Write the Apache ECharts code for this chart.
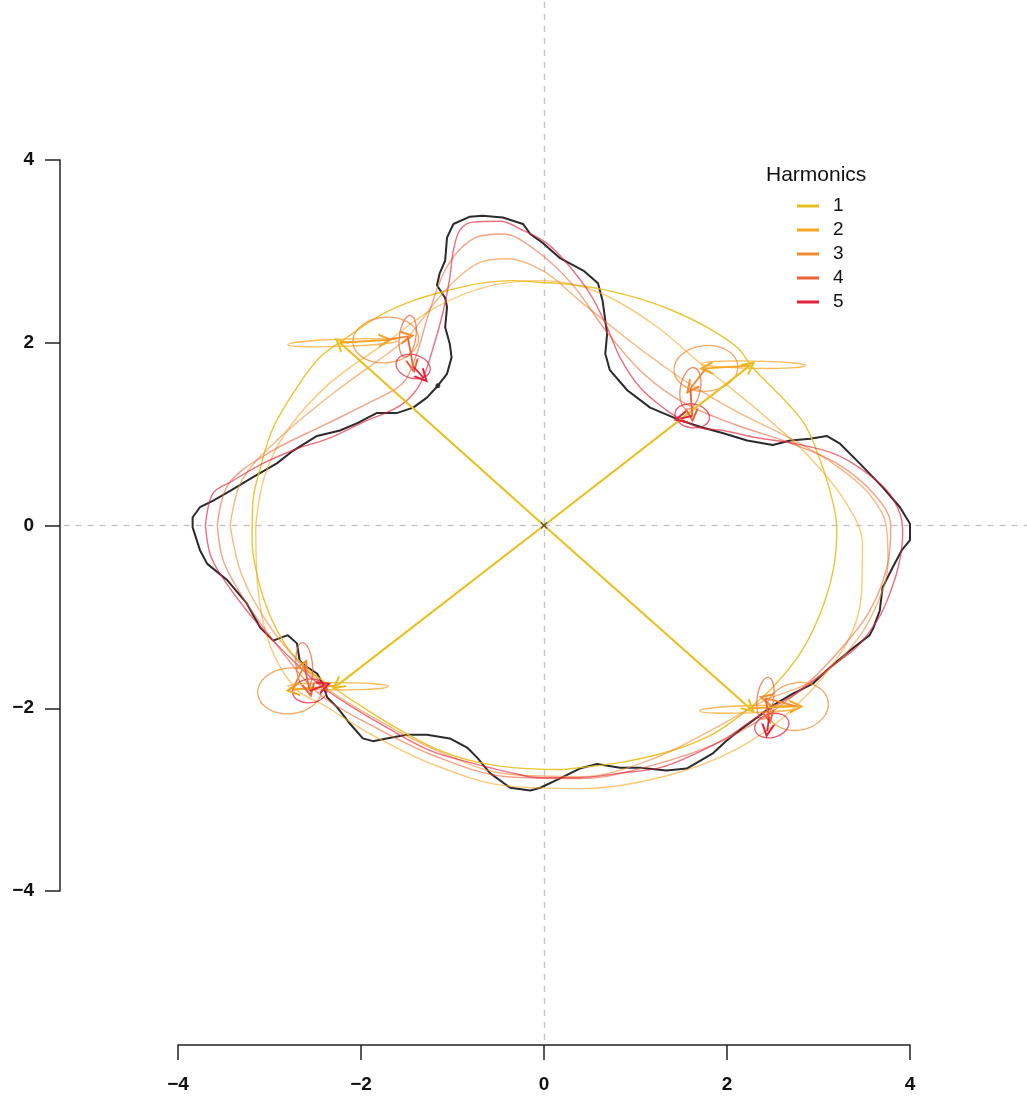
<!DOCTYPE html>
<html><head><meta charset="utf-8">
<script src="https://cdn.jsdelivr.net/npm/echarts@6/dist/echarts.min.js"></script>
<style>html,body{margin:0;padding:0;background:#fff}#c{width:1027px;height:1098px}</style>
</head><body><div id="c"></div>
<script>
// ---------- DATA ----------
const tickValues = [-4, -2, 0, 2, 4];
const legendNames = ['1', '2', '3', '4', '5'];
const legendTitle = 'Harmonics';

const refV = [[0, -5.63], [0, 5.74]];
const refH = [[-5.25, 0], [5.35, 0]];

const outline = [[-1.16,1.53],[-1.06,1.66],[-1.01,1.84],[-1.03,1.99],[-1.08,2.17],[-1.06,2.39],[-1.08,2.49],[-1.17,2.63],[-1.14,2.76],[-1.08,2.90],[-1.06,3.15],[-0.99,3.30],[-0.81,3.38],[-0.67,3.39],[-0.45,3.37],[-0.23,3.30],[-0.15,3.19],[-0.01,3.09],[0.17,2.93],[0.43,2.79],[0.59,2.65],[0.64,2.46],[0.69,2.10],[0.67,1.88],[0.72,1.70],[0.91,1.48],[1.16,1.29],[1.49,1.15],[1.74,1.07],[1.96,1.01],[2.22,0.93],[2.50,0.88],[2.69,0.93],[2.91,0.95],[3.09,0.98],[3.23,0.90],[3.45,0.68],[3.70,0.42],[3.89,0.20],[4.00,0.02],[4.00,-0.16],[3.91,-0.27],[3.81,-0.46],[3.70,-0.68],[3.67,-0.93],[3.60,-1.12],[3.56,-1.20],[3.34,-1.37],[3.13,-1.55],[2.94,-1.73],[2.72,-1.84],[2.50,-1.97],[2.33,-2.10],[2.14,-2.24],[2.00,-2.35],[1.85,-2.49],[1.56,-2.66],[1.34,-2.68],[1.05,-2.65],[0.83,-2.65],[0.58,-2.61],[0.39,-2.66],[0.17,-2.77],[-0.04,-2.87],[-0.15,-2.90],[-0.37,-2.87],[-0.59,-2.71],[-0.73,-2.54],[-0.84,-2.43],[-1.03,-2.33],[-1.28,-2.29],[-1.50,-2.29],[-1.72,-2.33],[-1.87,-2.36],[-1.98,-2.33],[-2.12,-2.17],[-2.26,-1.99],[-2.37,-1.88],[-2.42,-1.73],[-2.48,-1.62],[-2.59,-1.55],[-2.67,-1.48],[-2.70,-1.29],[-2.80,-1.20],[-2.96,-1.26],[-3.10,-1.12],[-3.25,-0.85],[-3.46,-0.60],[-3.68,-0.42],[-3.76,-0.27],[-3.84,-0.02],[-3.84,0.09],[-3.76,0.20],[-3.62,0.27],[-3.43,0.38],[-3.18,0.53],[-2.92,0.68],[-2.74,0.82],[-2.48,0.98],[-2.23,1.04],[-2.04,1.12],[-1.83,1.23],[-1.61,1.23],[-1.43,1.29],[-1.28,1.40],[-1.16,1.53]];
const startPoint = [[-1.16, 1.53]];
const centerPoint = [[0, 0]];

const harm1 = [[-3.19,-0.13],[-3.18,-0.31],[-3.10,-0.68],[-2.97,-1.04],[-2.78,-1.37],[-2.52,-1.62],[-2.31,-1.77],[-1.93,-2.02],[-1.57,-2.24],[-1.21,-2.43],[-0.81,-2.57],[-0.34,-2.65],[0.17,-2.67],[0.39,-2.65],[0.86,-2.59],[1.41,-2.46],[1.85,-2.28],[2.22,-2.02],[2.50,-1.77],[2.80,-1.40],[3.02,-0.96],[3.16,-0.49],[3.20,-0.05],[3.16,0.24],[3.02,0.71],[2.82,1.15],[2.28,1.73],[2.11,1.95],[1.78,2.17],[1.41,2.35],[1.05,2.48],[0.61,2.59],[0.17,2.65],[-0.04,2.66],[-0.34,2.68],[-0.70,2.65],[-1.06,2.57],[-1.43,2.46],[-1.79,2.30],[-2.15,2.06],[-2.45,1.84],[-2.70,1.51],[-2.96,1.07],[-3.10,0.63],[-3.18,0.27],[-3.19,-0.13]];
const harm2 = [[-3.15,0.0],[-3.05,0.55],[-2.8,1.05],[-2.35,1.55],[-1.70,2.02],[-1.2,2.38],[-0.6,2.62],[0.0,2.68],[0.6,2.55],[1.2,2.2],[1.76,1.73],[2.35,1.25],[2.9,0.75],[3.3,0.25],[3.48,-0.2],[3.47,-0.74],[3.3,-1.3],[2.74,-1.99],[2.1,-2.45],[1.3,-2.75],[0.4,-2.88],[-0.4,-2.85],[-1.2,-2.62],[-1.9,-2.28],[-2.40,-1.97],[-2.71,-1.79],[-3.0,-1.3],[-3.13,-0.65],[-3.15,0.0]];
const harm3 = [[-3.43,0.0],[-3.3,0.5],[-2.9,0.95],[-2.3,1.45],[-1.85,1.78],[-1.49,2.06],[-1.1,2.55],[-0.7,2.88],[-0.4,2.92],[0.0,2.78],[0.4,2.45],[0.9,2.05],[1.3,1.75],[1.62,1.53],[2.1,1.25],[2.7,0.95],[3.2,0.65],[3.55,0.35],[3.74,0.0],[3.76,-0.4],[3.6,-0.95],[3.3,-1.4],[2.9,-1.72],[2.42,-1.91],[1.9,-2.2],[1.2,-2.55],[0.4,-2.75],[-0.4,-2.72],[-1.2,-2.45],[-1.9,-2.08],[-2.35,-1.8],[-2.62,-1.56],[-3.0,-1.1],[-3.3,-0.55],[-3.43,0.0]];
const harm4 = [[-3.57,0.0],[-3.45,0.45],[-3.0,0.8],[-2.4,1.1],[-1.9,1.35],[-1.55,1.55],[-1.40,1.85],[-1.25,2.35],[-1.05,2.85],[-0.75,3.15],[-0.45,3.19],[-0.1,3.02],[0.3,2.65],[0.7,2.1],[1.1,1.65],[1.55,1.33],[2.1,1.1],[2.7,0.9],[3.2,0.68],[3.6,0.35],[3.79,0.0],[3.75,-0.45],[3.55,-0.95],[3.2,-1.4],[2.8,-1.8],[2.4,-2.1],[1.9,-2.38],[1.2,-2.62],[0.4,-2.77],[-0.4,-2.75],[-1.2,-2.52],[-1.9,-2.18],[-2.45,-1.85],[-2.85,-1.4],[-3.25,-0.85],[-3.5,-0.4],[-3.57,0.0]];
const harm5 = [[-3.70,0.00],[-3.62,0.35],[-3.40,0.49],[-3.07,0.68],[-2.70,0.84],[-2.34,0.96],[-1.98,1.13],[-1.61,1.29],[-1.43,1.44],[-1.32,1.62],[-1.21,1.95],[-1.10,2.35],[-1.03,2.71],[-0.99,3.01],[-0.92,3.23],[-0.78,3.32],[-0.48,3.33],[-0.23,3.23],[0.03,3.09],[0.25,2.87],[0.50,2.54],[0.69,2.17],[0.83,1.84],[1.05,1.51],[1.34,1.26],[1.49,1.17],[1.70,1.07],[1.96,1.04],[2.33,0.96],[2.72,0.90],[3.16,0.79],[3.45,0.63],[3.75,0.38],[3.89,0.13],[3.92,-0.09],[3.87,-0.46],[3.75,-0.82],[3.64,-1.04],[3.42,-1.33],[3.13,-1.55],[2.80,-1.81],[2.50,-1.99],[2.28,-2.13],[2.00,-2.32],[1.67,-2.49],[1.27,-2.65],[0.83,-2.71],[0.39,-2.76],[-0.04,-2.76],[-0.34,-2.71],[-0.78,-2.60],[-1.25,-2.46],[-1.72,-2.21],[-2.09,-1.99],[-2.42,-1.77],[-2.67,-1.55],[-2.96,-1.26],[-3.25,-0.93],[-3.54,-0.53],[-3.65,-0.31],[-3.70,0.00]];

// epicycle ellipses: [centerX, centerY, radiusX, radiusY, tiltDeg]
const epi2 = [[-2.20,2.00,0.60,0.04,2],[2.29,1.76,0.57,0.04,-1],[-2.25,-1.76,0.55,0.04,0],[2.25,-2.01,0.55,0.04,2]];
const epi3 = [[-1.73,2.03,0.36,0.25,5],[1.77,1.72,0.35,0.25,5],[-2.78,-1.81,0.35,0.25,5],[2.77,-1.98,0.34,0.26,10]];
const epi4 = [[-1.49,2.07,0.09,0.23,-8],[1.60,1.50,0.11,0.23,-10],[-2.62,-1.53,0.09,0.25,5],[2.42,-1.89,0.09,0.23,-8]];
const epi5 = [[-1.43,1.74,0.19,0.13,-15],[1.62,1.20,0.19,0.13,-10],[-2.56,-1.81,0.19,0.13,5],[2.49,-2.19,0.19,0.13,15]];

// chains of partial sums (origin, then harmonic 1..5) at four positions
const chainTL = [[0,0],[-2.23,2.00],[-1.73,2.03],[-1.49,2.07],[-1.43,1.74],[-1.32,1.62]];
const chainTR = [[0,0],[2.25,1.75],[1.77,1.72],[1.60,1.50],[1.62,1.20],[1.49,1.17]];
const chainBL = [[0,0],[-2.26,-1.75],[-2.75,-1.80],[-2.62,-1.53],[-2.56,-1.81],[-2.40,-1.75]];
const chainBR = [[0,0],[2.25,-2.00],[2.76,-1.98],[2.42,-1.89],[2.46,-2.10],[2.44,-2.25]];

// ---------- STYLE ----------
const colors = ['#E8BF1C', '#F5A623', '#F28A30', '#EE6335', '#E3213A'];
const curveOpacity = [0.9, 0.6, 0.6, 0.6, 0.65];
const FONT = '"Liberation Sans", Arial, Helvetica, sans-serif';

const chains = [chainTL, chainTR, chainBL, chainBR];
const curves = [harm1, harm2, harm3, harm4, harm5];
const epis = [null, epi2, epi3, epi4, epi5];

const series = [];
series.push({type:'lines', coordinateSystem:'cartesian2d', silent:true, clip:false,
  data:[{coords: refV}, {coords: refH}],
  lineStyle:{color:'#c4c4c4', width:1.4, type:[6,6], opacity:1}, z:1});
series.push({type:'line', name:'outline', data: outline, clip:false, showSymbol:false, symbol:'none',
  lineStyle:{color:'#2b2b2b', width:2}, z:2});

curves.forEach((c, i) => {
  series.push({type:'line', name: legendNames[i], data: c, clip:false, smooth:0.35, showSymbol:false, symbol:'none',
    color: colors[i], lineStyle:{color: colors[i], width:1.4, opacity: curveOpacity[i]}, z:3});
});

epis.forEach((e, i) => {
  if (!e) return;
  series.push({type:'custom', name:'epi'+(i+1), data:e, clip:false, z:4,
    renderItem: function(params, api){
      const c = api.coord([api.value(0), api.value(1)]);
      const s = api.size([api.value(2), api.value(3)]);
      return {type:'ellipse', x:c[0], y:c[1], rotation: api.value(4)*Math.PI/180,
        shape:{cx:0, cy:0, rx:s[0], ry:s[1]},
        style:{fill:'none', stroke: colors[i], lineWidth:1.3, opacity:0.75}};
    }});
});

const arrowHead = 'path://M5,0 L10,10 L8.4,10 L5,3.2 L1.6,10 L0,10 Z';
for (let k = 1; k <= 5; k++) {
  const d = chains.map(ch => ({coords:[ch[k-1], ch[k]]}));
  series.push({type:'lines', name:'arrow'+k, coordinateSystem:'cartesian2d', data:d, clip:false,
    symbol:['none', arrowHead], symbolSize:[11, 14],
    lineStyle:{color: colors[k-1], width: k===1 ? 2 : 1.8, opacity:1, curveness:0},
    itemStyle:{color: colors[k-1]}, z:5});
}

series.push({type:'scatter', data:startPoint, symbol:'circle', symbolSize:5, itemStyle:{color:'#222'}, z:6});
series.push({type:'scatter', data:centerPoint, symbol:'path://M0,0 L10,10 M10,0 L0,10', symbolSize:6,
  itemStyle:{color:'none', borderColor:'#333', borderWidth:1.3}, z:6});

const fmt = v => String(v).replace('-', '\u2212');

const chart = echarts.init(document.getElementById('c'), null, {renderer:'canvas'});
chart.setOption({
  animation:false,
  backgroundColor:'#fff',
  title:{text: legendTitle, left:761, top:160, textStyle:{fontFamily:FONT, fontSize:21, fontWeight:'normal', color:'#111'}},
  legend:{data: legendNames, orient:'vertical', left:792, top:191, icon:'rect', itemWidth:22, itemHeight:3, itemGap:4,
    textStyle:{fontFamily:FONT, fontSize:19, color:'#111', lineHeight:20, padding:[0,0,0,9]}, selectedMode:false},
  grid:{left:178, right:117, top:160, bottom:207, containLabel:false},
  xAxis:{type:'value', min:-4, max:4, interval:2, position:'bottom', offset:154,
    axisLine:{show:true, onZero:false, lineStyle:{color:'#222', width:1.5}},
    axisTick:{show:true, inside:false, length:15, lineStyle:{color:'#222', width:1.5}},
    axisLabel:{fontFamily:FONT, fontSize:19, fontWeight:'bold', color:'#111', margin:30, formatter: fmt},
    splitLine:{show:false}},
  yAxis:{type:'value', min:-4, max:4, interval:2, position:'left', offset:118,
    axisLine:{show:true, onZero:false, lineStyle:{color:'#222', width:1.5}},
    axisTick:{show:true, inside:false, length:15, lineStyle:{color:'#222', width:1.5}},
    axisLabel:{fontFamily:FONT, fontSize:19, fontWeight:'bold', color:'#111', margin:26, formatter: fmt},
    splitLine:{show:false}},
  series: series
});
</script></body></html>
